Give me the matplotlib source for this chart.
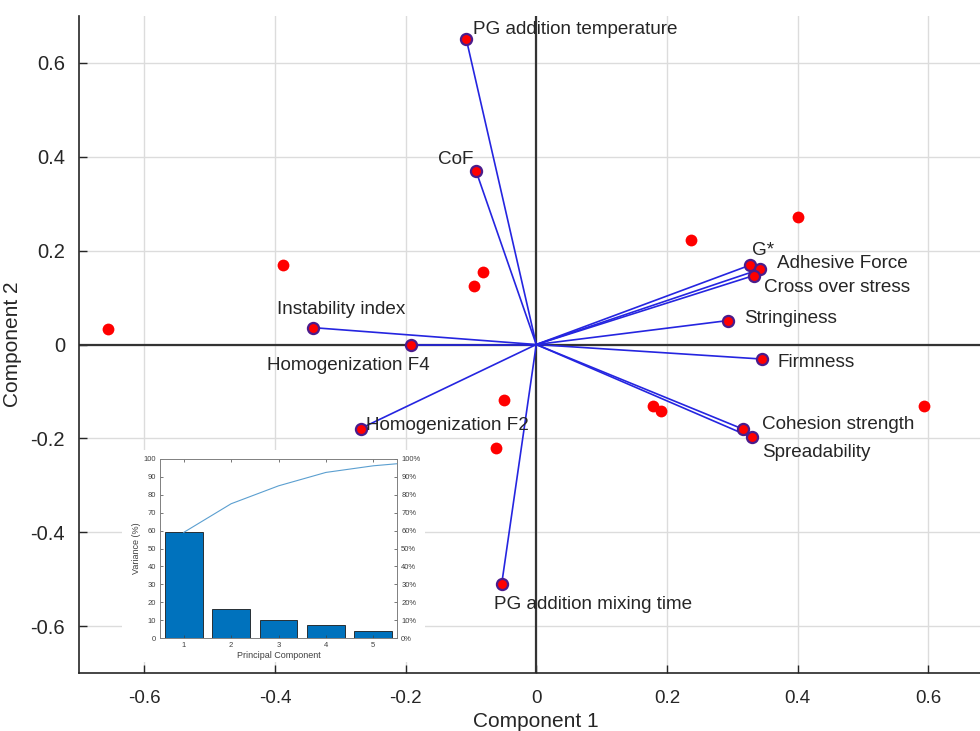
import numpy as np
import matplotlib
matplotlib.use("Agg")
import matplotlib.pyplot as plt
from matplotlib.patches import Rectangle

plt.rcParams['font.family'] = ['Liberation Sans', 'DejaVu Sans']
plt.rcParams['axes.unicode_minus'] = False

# loadings (variables) on component 1 / 2
var_names = ['PG addition temperature', 'CoF', 'G*', 'Adhesive Force', 'Cross over stress',
             'Stringiness', 'Firmness', 'Cohesion strength', 'Spreadability',
             'Instability index', 'Homogenization F4', 'Homogenization F2',
             'PG addition mixing time']
load_pc1 = [-0.107, -0.092, 0.327, 0.342, 0.333, 0.293, 0.346, 0.316, 0.330,
            -0.342, -0.192, -0.269, -0.053]
load_pc2 = [0.650, 0.369, 0.169, 0.160, 0.147, 0.051, -0.031, -0.180, -0.198,
            0.036, 0.000, -0.179, -0.511]

# scores (observations)
score_pc1 = [-0.655, -0.388, -0.082, -0.095, 0.237, 0.400, -0.050, -0.061, 0.179, 0.191, 0.594]
score_pc2 = [0.034, 0.169, 0.154, 0.124, 0.222, 0.272, -0.119, -0.220, -0.130, -0.142, -0.131]

# explained variance for the inset pareto
pc_index = [1, 2, 3, 4, 5, 6]
explained = [59.0, 16.0, 10.0, 7.5, 3.7, 2.3]
n_bars = 5

# where each loading label sits (data coords, left edge / vertical centre)
label_xy = [(-0.097, 0.675), (-0.150, 0.398), (0.331, 0.204), (0.369, 0.176), (0.348, 0.126),
            (0.318, 0.060), (0.370, -0.034), (0.345, -0.167), (0.345, -0.225),
            (-0.397, 0.079), (-0.412, -0.041), (-0.260, -0.168), (-0.064, -0.550)]

fig = plt.figure(figsize=(9.8, 7.31), dpi=100)
ax = fig.add_axes([0.0806, 0.0793, 0.9332, 0.8988])

ax.set_xlim(-0.7, 0.7)
ax.set_ylim(-0.7, 0.7)
ticks = [-0.6, -0.4, -0.2, 0, 0.2, 0.4, 0.6]
ax.set_xticks(ticks)
ax.set_yticks(ticks)
ax.set_xticklabels(['-0.6', '-0.4', '-0.2', '0', '0.2', '0.4', '0.6'])
ax.set_yticklabels(['-0.6', '-0.4', '-0.2', '0', '0.2', '0.4', '0.6'])
ax.grid(True, color='#dcdcdc', lw=1.0)
ax.set_axisbelow(True)
for s in ['top', 'right']:
    ax.spines[s].set_visible(False)
for s in ['left', 'bottom']:
    ax.spines[s].set_color('#262626')
    ax.spines[s].set_linewidth(1.2)
ax.tick_params(direction='in', length=6, width=1, colors='#262626', labelsize=13.5, pad=12)
ax.tick_params(axis='y', labelsize=14.5, pad=10)

ax.axhline(0, color='#333333', lw=1.6, zorder=1)
ax.axvline(0, color='#333333', lw=1.6, zorder=1)

ax.plot(score_pc1, score_pc2, 'o', color='#ff0000', ms=8.5, mec='none', zorder=3)

for x, y in zip(load_pc1, load_pc2):
    ax.plot([0, x], [0, y], color='#2525e0', lw=1.2, zorder=2)
ax.plot(load_pc1, load_pc2, 'o', mfc='#ff0000', mec='#4b1c8c', mew=1.6, ms=8, zorder=4)

for name, (tx, ty) in zip(var_names, label_xy):
    ax.text(tx, ty, name, fontsize=13.6, color='#262626', ha='left', va='center_baseline',
            zorder=5)

ax.set_xlabel('Component 1', fontsize=15, color='#262626', labelpad=4)
ax.set_ylabel('Component 2', fontsize=15, color='#262626', labelpad=6)

# white patch behind inset
fig.patches.append(Rectangle((0.1245, 0.094), 0.309, 0.291, transform=fig.transFigure,
                             facecolor='white', edgecolor='none', zorder=1))

ins = fig.add_axes([0.1633, 0.1272, 0.2418, 0.2449], zorder=3)
ins.bar(pc_index[:n_bars], explained[:n_bars], width=0.8, color='#0072bd',
        edgecolor='#1a1a1a', lw=0.6)
ins.set_xlim(0.5, 5.5)
ins.set_ylim(0, 100)
ins.set_yticks(np.arange(0, 101, 10))
ins.set_xticks(pc_index[:n_bars])
ins.tick_params(direction='in', length=2, width=0.5, labelsize=5.5, colors='#404040',
                top=True, pad=3)
ins.set_xlabel('Principal Component', fontsize=6.5, color='#404040', labelpad=1)
ins.set_ylabel('Variance (%)', fontsize=6.5, color='#404040', labelpad=2)
for s in ins.spines.values():
    s.set_color('#808080')
    s.set_linewidth(0.6)

ins2 = ins.twinx()
ins2.plot(pc_index, np.cumsum(explained), color='#5b9fd0', lw=0.8)
ins2.set_ylim(0, 100)
ins2.set_xlim(0.5, 5.5)
ins2.set_yticks(np.arange(0, 101, 10))
ins2.set_yticklabels(['%d%%' % v for v in range(0, 101, 10)])
ins2.tick_params(direction='in', length=2, width=0.5, labelsize=5.5, colors='#404040', pad=3)
for s in ins2.spines.values():
    s.set_color('#808080')
    s.set_linewidth(0.6)

fig.savefig('out.png', dpi=100)
